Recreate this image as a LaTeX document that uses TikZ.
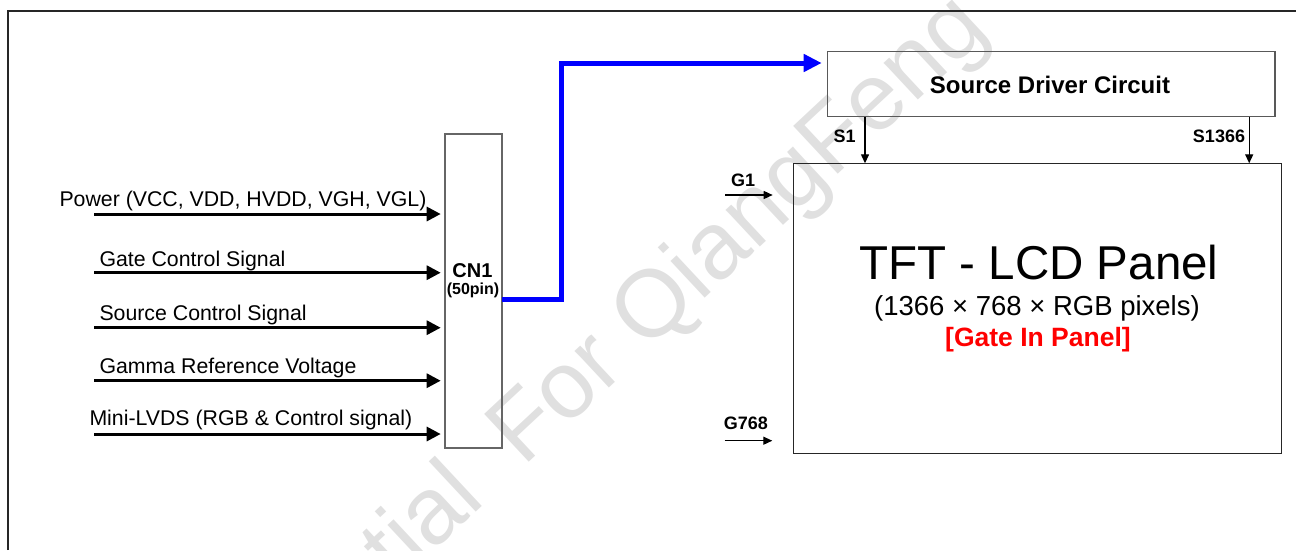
\documentclass[tikz,border=0pt]{standalone}
\usepackage{fontspec}
\setmainfont{Liberation Sans}
\usetikzlibrary{arrows.meta}
\begin{document}
\begin{tikzpicture}[x=1pt,y=-1pt,
  lbl/.style={anchor=base west, inner sep=0pt, font=\fontsize{21.3}{25}\selectfont},
  smalllbl/.style={inner sep=0pt, anchor=base, font=\bfseries\fontsize{18}{20}\selectfont},
  bigarrow/.style={line width=3pt, -{Triangle[length=14pt,width=14pt]}},
  smallarrow/.style={line width=1.3pt, -{Triangle[length=9pt,width=8pt]}},
  bluearrow/.style={draw={rgb,255:red,0;green,0;blue,255}, line width=5pt, -{Triangle[length=18pt,width=17pt]}},
  box/.style={draw=black!60, line width=1.3pt, inner sep=0pt, outer sep=0pt, anchor=north west},
]
\useasboundingbox (0,0) rectangle (1296,550);
% watermark
\node[rotate=43, anchor=base west, text=black!12, inner sep=0pt, font=\fontsize{95}{95}\selectfont] (wm) at (119.8,844.2) {Confidential\hspace{0.25em} For QiangFeng};
% frame
\draw[line width=2pt, black!85] (8,550) -- (8,10.5) -- (1296,10.5);
% CN1
\node[box, minimum width=57pt, minimum height=314pt] (cn1) at (445,134) {};
\node[inner sep=0pt, anchor=base, font=\bfseries\fontsize{20}{22}\selectfont] (cn1t) at (472.5,277.3) {CN1};
\node[inner sep=0pt, anchor=base, font=\bfseries\fontsize{16}{18}\selectfont] (cn1p) at (473,294) {(50pin)};
% inputs
\coordinate (sa) at (94,214);
\coordinate (sb) at (94,272.7);
\coordinate (sc) at (94,327.7);
\coordinate (sd0) at (94,380.7);
\coordinate (se) at (94,434);
\foreach \p in {sa,sb,sc,sd0,se}
  \draw[bigarrow, shorten >=4.3pt] (\p) -- (\p -| cn1.west);
\node[lbl] (la) at (59.3,206.7) {Power (VCC, VDD, HVDD, VGH, VGL)};
\node[lbl] (lb) at (99.3,266) {Gate Control Signal};
\node[lbl] (lc) at (99.3,320.7) {Source Control Signal};
\node[lbl] (ld) at (99.3,373.3) {Gamma Reference Voltage};
\node[lbl] (le) at (89.3,425) {Mini-LVDS (RGB \& Control signal)};
% source driver
\node[box, draw=black!65, minimum width=447.7pt, minimum height=65.5pt] (sd) at (827.3,51.3) {};
\node[inner sep=0pt, anchor=base, font=\bfseries\fontsize{24}{28}\selectfont] (sdt) at (1050,93.3) {Source Driver Circuit};
% TFT panel
\node[box, draw=black!85, line width=1.2pt, minimum width=488pt, minimum height=290pt] (tft) at (793.3,163.3) {};
\node[inner sep=0pt, anchor=base, font=\fontsize{47.5}{52}\selectfont] (t1) at (1039,279) {TFT - LCD Panel};
\node[inner sep=0pt, anchor=base, font=\fontsize{27.5}{31}\selectfont] (t2) at (1037,315) {(1366 × 768 × RGB pixels)};
\node[inner sep=0pt, anchor=base, text={rgb,255:red,255;green,0;blue,0}, font=\bfseries\fontsize{26.5}{30}\selectfont] (t3) at (1038,346.7) {[Gate In Panel]};
% blue bus
\draw[bluearrow, shorten >=5.6pt] (cn1.east |- 0,299) -- (561.7,299) -- (561.7,63) -- (sd.west |- 0,63);
% source lines
\draw[smallarrow] (sd.south -| 865,0) -- (tft.north -| 865,0);
\draw[smallarrow] (sd.south -| 1249.2,0) -- (tft.north -| 1249.2,0);
\node[smalllbl] (s1) at (844.5,142.7) {S1};
\node[smalllbl] (s1366) at (1219,142) {S1366};
% gate lines
\coordinate (g1) at (725,195);
\coordinate (g768) at (724.7,440.7);
\draw[smallarrow, shorten >=20.6pt] (g1) -- (g1 -| tft.west);
\draw[smallarrow, shorten >=21pt] (g768) -- (g768 -| tft.west);
\node[smalllbl] (g1t) at (743,186) {G1};
\node[smalllbl] (g768t) at (745.8,429.3) {G768};
\end{tikzpicture}
\end{document}
